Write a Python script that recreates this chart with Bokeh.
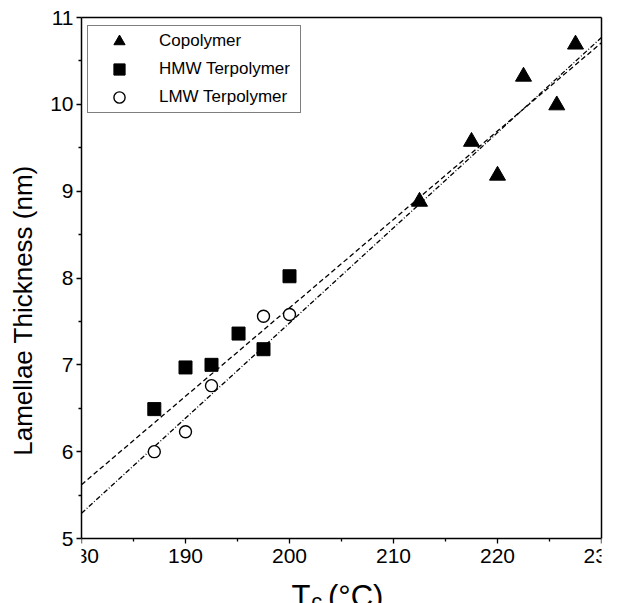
from bokeh.plotting import figure
from bokeh.models import Range1d, Legend, LegendItem, FixedTicker, LinearAxis
from bokeh.core.properties import value
from bokeh.embed import file_html
from bokeh.resources import INLINE

# data
copo_x = [212.5, 217.5, 220.0, 222.5, 225.7, 227.5]
copo_y = [8.88, 9.57, 9.18, 10.32, 9.99, 10.69]
hmw_x = [187.0, 190.0, 192.5, 195.1, 197.5, 200.0]
hmw_y = [6.49, 6.97, 7.00, 7.36, 7.18, 8.02]
lmw_x = [187.0, 190.0, 192.5, 197.5, 200.0]
lmw_y = [6.00, 6.23, 6.76, 7.56, 7.58]
fit_x = [180, 230]
fit_dash_y = [5.62, 10.71]
fit_dashdot_y = [5.29, 10.77]
x_ticks = [180, 190, 200, 210, 220, 230]
y_ticks = [5, 6, 7, 8, 9, 10, 11]
x_label_parts = ["T", "c", "(°C)"]

FONT = "Liberation Sans"
W, H = 618, 603
TOP, BOTTOM_AXIS_PX = 17, 538          # pixel rows of y=11 and y=5
Y0, Y1 = 5, 11
px_per_unit = (BOTTOM_AXIS_PX - TOP) / (Y1 - Y0)
y_low = Y0 - (H - BOTTOM_AXIS_PX) / px_per_unit   # frame runs to the bottom edge


def y_at(px):
    return Y1 - (px - TOP) / px_per_unit


p = figure(width=W, height=H, output_backend="svg", toolbar_location=None,
           x_range=Range1d(180, 230), y_range=Range1d(y_low, Y1),
           min_border_left=81, min_border_right=17, min_border_top=TOP, min_border_bottom=0)
p.xgrid.visible = False
p.ygrid.visible = False
p.outline_line_color = None
p.background_fill_color = "white"
p.border_fill_color = "white"

for ax in (p.xaxis[0], p.yaxis[0]):
    ax.axis_line_width = 1.5
    ax.axis_line_color = "black"
    ax.major_tick_line_width = 1.3
    ax.minor_tick_line_width = 1.3
    ax.major_tick_out = 5
    ax.major_tick_in = 0
    ax.minor_tick_out = 3
    ax.minor_tick_in = 0
    ax.major_label_text_font = FONT
    ax.major_label_text_font_size = "21px"
    ax.major_label_text_color = "black"
    ax.axis_label_text_font = FONT
    ax.axis_label_text_font_style = "normal"
    ax.axis_label_text_color = "black"

p.xaxis[0].ticker = FixedTicker(ticks=x_ticks, minor_ticks=[185, 195, 205, 215, 225])
p.xaxis[0].fixed_location = Y0
p.xaxis[0].major_label_standoff = 5
p.yaxis[0].ticker = FixedTicker(ticks=y_ticks, minor_ticks=[5.5, 6.5, 7.5, 8.5, 9.5, 10.5])
p.yaxis[0].bounds = (Y0, Y1)
p.yaxis[0].major_label_standoff = 3
p.yaxis[0].axis_label = "Lamellae Thickness (nm)"
p.yaxis[0].axis_label_text_font_size = "26px"
p.yaxis[0].axis_label_standoff = 9

# top and right frame lines
top_ax = LinearAxis(ticker=FixedTicker(ticks=[]), axis_line_width=1.5, axis_line_color="black",
                    major_tick_out=0, major_tick_in=0, minor_tick_out=0, minor_tick_in=0,
                    major_label_standoff=0)
right_ax = LinearAxis(ticker=FixedTicker(ticks=[]), bounds=(Y0, Y1), axis_line_width=1.5,
                      axis_line_color="black", major_tick_out=0, major_tick_in=0,
                      minor_tick_out=0, minor_tick_in=0, major_label_standoff=0)
p.add_layout(top_ax, "above")
p.add_layout(right_ax, "right")

# fit lines
p.line(fit_x, fit_dash_y, line_color="black", line_width=1.3, line_dash="5 3")
p.line(fit_x, fit_dashdot_y, line_color="black", line_width=1.3, line_dash="5 2 1 2")

r1 = p.scatter(copo_x, copo_y, marker="triangle", size=16, fill_color="black", line_color="black")
r2 = p.scatter(hmw_x, hmw_y, marker="square", size=13, fill_color="black", line_color="black")
r3 = p.scatter(lmw_x, lmw_y, marker="circle", size=12, fill_color="white", line_color="black", line_width=1.4)

frame_h = H - TOP
leg_h = 1 + 3 * 28 + 1
legend = Legend(items=[LegendItem(label="Copolymer", renderers=[r1]),
                       LegendItem(label="HMW Terpolymer", renderers=[r2]),
                       LegendItem(label="LMW Terpolymer", renderers=[r3])],
                location=(6, frame_h - 10 - leg_h))
legend.margin = 0
legend.padding = 1
legend.spacing = 0
legend.glyph_height = 28
legend.glyph_width = 60
legend.label_standoff = 10
legend.label_width = 140
legend.label_height = 28
legend.label_text_font = FONT
legend.label_text_font_size = "17px"
legend.label_text_color = "black"
legend.border_line_color = "black"
legend.border_line_width = 1.3
legend.background_fill_alpha = 1
p.add_layout(legend)

# x-axis title "T_c (°C)" below the tick labels
p.text(x=[200.2], y=[y_at(596)], text=[x_label_parts[0]], text_font=value(FONT),
       text_font_size="31px", text_baseline="alphabetic", text_color="black")
p.text(x=[202.1], y=[y_at(600.5)], text=[x_label_parts[1]], text_font=value(FONT),
       text_font_size="22px", text_baseline="middle", text_color="black")
p.text(x=[203.7], y=[y_at(596)], text=[x_label_parts[2]], text_font=value(FONT),
       text_font_size="31px", text_baseline="alphabetic", text_color="black")

open("out.html", "w").write(file_html(p, INLINE))
